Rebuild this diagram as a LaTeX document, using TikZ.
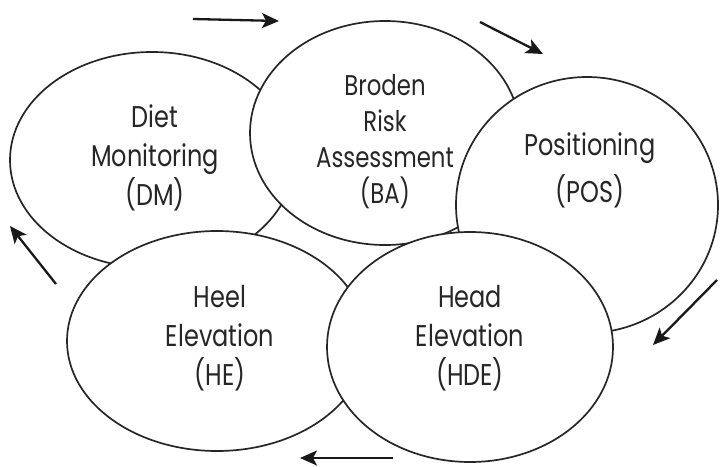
\documentclass[tikz,border=0pt]{standalone}
\usepackage{fontspec}
\setmainfont{Poppins}[FakeStretch=0.8]
\usetikzlibrary{shapes.geometric,arrows.meta}
\begin{document}
\begin{tikzpicture}[x=1pt,y=-1pt,
  bubble/.style={draw=black!85, line width=1.7pt, fill=white, ellipse, inner sep=0pt},
  lbl/.style={align=center, font=\fontsize{30}{39}\selectfont, text=black!85},
  lblwide/.style={align=center, font=\fontsize{30}{47}\selectfont, text=black!85},
  lblsmall/.style={align=center, font=\fontsize{28.5}{36}\selectfont, text=black!85},
  flow/.style={draw=black!90, line width=2.3pt, -{Stealth[length=17pt,width=15pt,inset=4pt]}}]
\useasboundingbox (0,0) rectangle (720,466);
\node[bubble, minimum width=284pt, minimum height=216pt] (dm) at (152,160) {};
\node[bubble, minimum width=270pt, minimum height=224pt] (ba) at (385,133) {};
\node[bubble, minimum width=262pt, minimum height=256pt] (pos) at (587,205) {};
\node[bubble, minimum width=300pt, minimum height=220pt] (he) at (217,341) {};
\node[bubble, minimum width=286pt, minimum height=230pt] (hde) at (470,347) {};
\node[lbl] (tdm) at (155,158) {Diet\\Monitoring\\(DM)};
\node[lblsmall] (tba) at (385,142) {Broden\\Risk\\Assessment\\(BA)};
\node[lblwide] (tpos) at (590,170) {Positioning\\(POS)};
\node[lbl] (the) at (220,338) {Heel\\Elevation\\(HE)};
\node[lbl] (thde) at (470,338) {Head\\Elevation\\(HDE)};
\coordinate (a1s) at (193,19);  \coordinate (a1e) at (279,21);
\coordinate (a2s) at (480,22);  \coordinate (a2e) at (543,54);
\coordinate (a3s) at (717,280); \coordinate (a3e) at (653,345);
\coordinate (a4s) at (393,458); \coordinate (a4e) at (300,458);
\coordinate (a5s) at (56,284);  \coordinate (a5e) at (10,226);
\draw[flow] (a1s) -- (a1e);
\draw[flow] (a2s) -- (a2e);
\draw[flow] (a3s) -- (a3e);
\draw[flow] (a4s) -- (a4e);
\draw[flow] (a5s) -- (a5e);
\end{tikzpicture}
\end{document}
